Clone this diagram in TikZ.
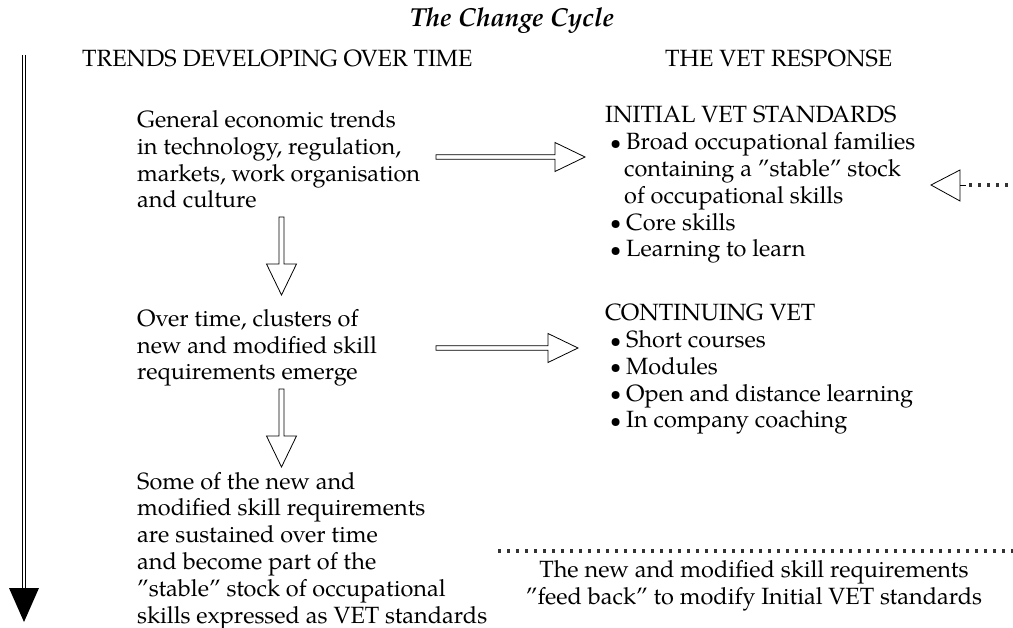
\documentclass[tikz,border=0pt]{standalone}
\usepackage{fontspec}
\setmainfont{TeX Gyre Pagella}
\usetikzlibrary{calc}
\newcommand\bul{\makebox[16pt][l]{\raisebox{0.5pt}{\scalebox{0.85}{\textbullet}}}}
\newcommand\HArrow[2]{%
  \draw[hollow] ($(#1)+(0,-2.2)$) -- ($(#2)+(-30,-2.2)$) -- ($(#2)+(-30,-14.5)$) -- (#2)
     -- ($(#2)+(-30,14.5)$) -- ($(#2)+(-30,2.2)$) -- ($(#1)+(0,2.2)$) -- cycle;}
\newcommand\VArrow[2]{%
  \draw[hollow] ($(#1)+(-2.5,0)$) -- ($(#2)+(-2.5,-31)$) -- ($(#2)+(-15,-31)$) -- (#2)
     -- ($(#2)+(15,-31)$) -- ($(#2)+(2.5,-31)$) -- ($(#1)+(2.5,0)$) -- cycle;}
\begin{document}
\begin{tikzpicture}[x=1pt,y=-1pt,
  body/.style={font=\fontsize{23.5}{26.8}\selectfont, align=left, inner sep=0pt, anchor=base west},
  hdr/.style={font=\fontsize{23.5}{26.8}\selectfont, inner sep=0pt, anchor=base west},
  hollow/.style={draw, line width=0.8pt, fill=white, line join=miter},
  dotline/.style={line width=3.2pt, dash pattern=on 3.2pt off 5.8pt, draw=black!80}]
\useasboundingbox (0,0) rectangle (1013,628);

\node[font=\fontsize{26}{30}\selectfont\bfseries\itshape, inner sep=0pt, anchor=base] (title) at (512,27) {The Change Cycle};
\node[hdr] (hdrL) at (82,67) {TRENDS DEVELOPING OVER TIME};
\node[hdr] (hdrR) at (665,67) {THE VET RESPONSE};

% anchor base = baseline of the last line
\node[body] (t1) at (137,208) {General economic trends\\in technology, regulation,\\markets, work organisation\\and culture};
\node[body] (t2) at (137,380) {Over time, clusters of\\new and modified skill\\requirements emerge};
\node[body] (t3) at (137,623) {Some of the new and\\modified skill requirements\\are sustained over time\\and become part of the\\"stable" stock of occupational\\skills expressed as VET standards};

\node[body] (r1) at (605,257) {INITIAL VET STANDARDS\\\hspace*{5pt}\bul Broad occupational families\\\hspace*{19pt}containing a "stable" stock\\\hspace*{19pt}of occupational skills\\\hspace*{5pt}\bul Core skills\\\hspace*{5pt}\bul Learning to learn};
\node[body] (r2) at (605,428) {CONTINUING VET\\\hspace*{5pt}\bul Short courses\\\hspace*{5pt}\bul Modules\\\hspace*{5pt}\bul Open and distance learning\\\hspace*{5pt}\bul In company coaching};

\node[font=\fontsize{23.5}{26.8}\selectfont, align=center, inner sep=0pt, anchor=base] (fb) at (754,604) {The new and modified skill requirements\\"feed back" to modify Initial VET standards};

% horizontal arrows
\coordinate (h1s) at (436,157); \coordinate (h1t) at (585,157);
\HArrow{h1s}{h1t}
\coordinate (h2s) at (436,348); \coordinate (h2t) at (578,348);
\HArrow{h2s}{h2t}
% vertical arrows
\coordinate (v1s) at (281.5,217); \coordinate (v1t) at (281.5,295);
\VArrow{v1s}{v1t}
\coordinate (v2s) at (281.5,389); \coordinate (v2t) at (281.5,467);
\VArrow{v2s}{v2t}

% time line
\coordinate (tl0) at (24,55); \coordinate (tl1) at (24,622);
\draw[line width=1.3pt, double=white, double distance=1.6pt] (tl0) -- ($(tl1)+(0,-32)$);
\fill ($(tl1)+(-15,-34)$) -- (tl1) -- ($(tl1)+(15,-34)$) -- cycle;

% feedback
\coordinate (fbtip) at (931,185); \coordinate (fbend) at (1013,185);
\draw[hollow] (fbtip) -- ($(fbtip)+(29,-15)$) -- ($(fbtip)+(29,16)$) -- cycle;
\draw[line width=0.8pt] ($(fbtip)+(29,0)$) -- ($(fbtip)+(35,0)$);
\draw[dotline] ($(fbtip)+(38,0)$) -- (fbend);

% dotted separator
\coordinate (d0) at (498,551); \coordinate (d1) at (1013,551);
\draw[dotline] (d0) -- (d1);
\end{tikzpicture}
\end{document}
